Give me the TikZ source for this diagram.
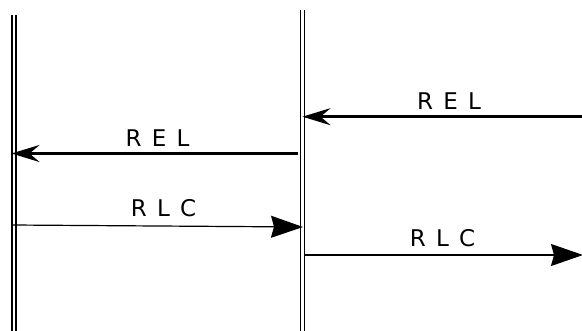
\documentclass[tikz,border=0pt]{standalone}
\usepackage{fontspec}
\usetikzlibrary{arrows.meta}
\newfontfamily\lab[WordSpace=1.4]{DejaVu Sans}
\begin{document}
\begin{tikzpicture}[x=1pt,y=-1pt,
  life/.style={line width=1.4pt,black},
  relarrow/.style={line width=3pt,-{Stealth[length=28pt,width=17pt,inset=10pt]}},
  rlcarrow/.style={line width=1.2pt,-{Stealth[length=32pt,width=22pt,inset=3pt]}},
  msg/.style={anchor=base,inner sep=0pt,font=\lab\fontsize{23pt}{27pt}\selectfont}]
\useasboundingbox (0,0) rectangle (582,331);
% lifelines
\coordinate (LAt) at (12,15);   \coordinate (LAb) at (12,331);
\coordinate (LBt) at (16,15);   \coordinate (LBb) at (16,331);
\coordinate (MAt) at (300.7,10); \coordinate (MAb) at (300.7,331);
\coordinate (MBt) at (304.3,10); \coordinate (MBb) at (304.3,331);
\draw[life] (LAt) -- (LAb);
\draw[life] (LBt) -- (LBb);
\draw[life] (MAt) -- (MAb);
\draw[life] (MBt) -- (MBb);
% REL 1
\coordinate (r1s) at (584,116.7); \coordinate (r1e) at (302.5,116.7);
\draw[relarrow] (r1s) -- (r1e);
\node[msg] (l1) at (449,110) {R E L};
% REL 2
\coordinate (r2s) at (297.5,153.5); \coordinate (r2e) at (11.5,153.5);
\draw[relarrow] (r2s) -- (r2e);
\node[msg] (l2) at (157.5,146.5) {R E L};
% RLC 1
\coordinate (c1s) at (11.5,225); \coordinate (c1e) at (303,227);
\draw[rlcarrow] (c1s) -- (c1e);
\node[msg] (l3) at (163.5,217) {R L C};
% RLC 2
\coordinate (c2s) at (305,255); \coordinate (c2e) at (583,255);
\draw[rlcarrow] (c2s) -- (c2e);
\node[msg] (l4) at (442.5,247) {R L C};
\end{tikzpicture}
\end{document}
